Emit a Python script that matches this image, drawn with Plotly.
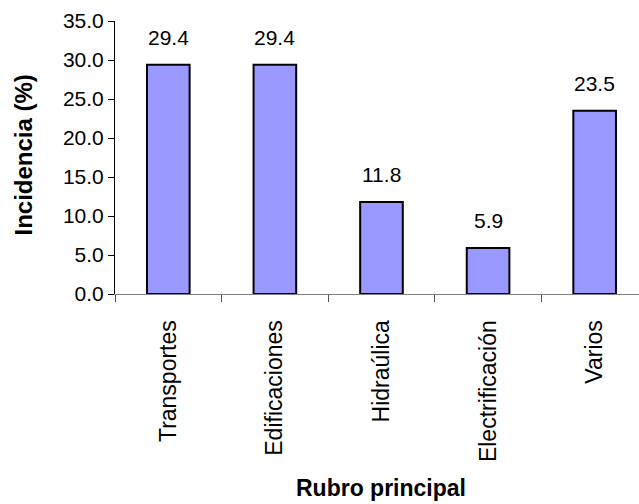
import plotly.graph_objects as go

# Incidence by main category
categories = ["Transportes", "Edificaciones", "Hidraúlica", "Electrificación", "Varios"]
incidence = [29.4, 29.4, 11.8, 5.9, 23.5]
y_ticks = [0, 5, 10, 15, 20, 25, 30, 35]

FONT = "Liberation Sans, Arial, sans-serif"

fig = go.Figure()
fig.add_trace(go.Bar(
    x=list(range(len(categories))),
    y=incidence,
    width=0.40,
    marker=dict(color="#9999FF", line=dict(color="black", width=2)),
    hoverinfo="skip",
))

# value labels above each bar
for i, v in enumerate(incidence):
    fig.add_annotation(
        x=i, y=v, xref="x", yref="y",
        text=f"{v:.1f}", showarrow=False,
        yanchor="bottom", yshift=14,
        font=dict(family=FONT, size=21, color="black"),
    )

# axis titles
fig.add_annotation(
    xref="paper", yref="paper", x=0, y=0.5,
    text="<b>Incidencia (%)</b>", textangle=-90, showarrow=False,
    xanchor="center", yanchor="middle", xshift=-92, yshift=2,
    font=dict(family=FONT, size=24, color="black"),
)
fig.add_annotation(
    xref="paper", yref="paper", x=0, y=0,
    text="<b>Rubro principal</b>", showarrow=False,
    xanchor="center", yanchor="middle", xshift=266, yshift=-194,
    font=dict(family=FONT, size=23, color="black"),
)

fig.update_layout(
    width=639, height=504,
    margin=dict(l=115, r=0, t=21, b=210),
    paper_bgcolor="white", plot_bgcolor="white",
    showlegend=False,
    font=dict(family=FONT, color="black"),
    xaxis=dict(
        range=[-0.5, 4.416],
        tickmode="array",
        tickvals=list(range(len(categories))),
        ticktext=categories,
        tickangle=-90,
        tickfont=dict(family=FONT, size=23, color="black"),
        showgrid=False, zeroline=False,
        showline=True, linecolor="#808080", linewidth=1,
        ticks="", ticklabelstandoff=16,
    ),
    xaxis2=dict(
        overlaying="x", anchor="y", side="bottom",
        range=[-0.5, 4.416],
        tickmode="array",
        tickvals=[-0.5, 0.5, 1.5, 2.5, 3.5, 4.5],
        ticktext=[""] * 6,
        ticks="outside", ticklen=7, tickcolor="#555555", tickwidth=1,
        showgrid=False, zeroline=False, showline=False,
    ),
    yaxis=dict(
        range=[0, 35],
        tickmode="array",
        tickvals=y_ticks,
        ticktext=[f"{t:.1f}" for t in y_ticks],
        tickfont=dict(family=FONT, size=21, color="black"),
        ticks="outside", ticklen=6, tickcolor="black", tickwidth=1,
        showgrid=False, zeroline=False,
        showline=True, linecolor="black", linewidth=1,
    ),
)

# invisible trace so the boundary-tick axis is drawn
fig.add_trace(go.Scatter(x=[0], y=[0], xaxis="x2", yaxis="y",
                         mode="markers", marker=dict(opacity=0),
                         hoverinfo="skip", showlegend=False))

fig.write_html("out.html")
